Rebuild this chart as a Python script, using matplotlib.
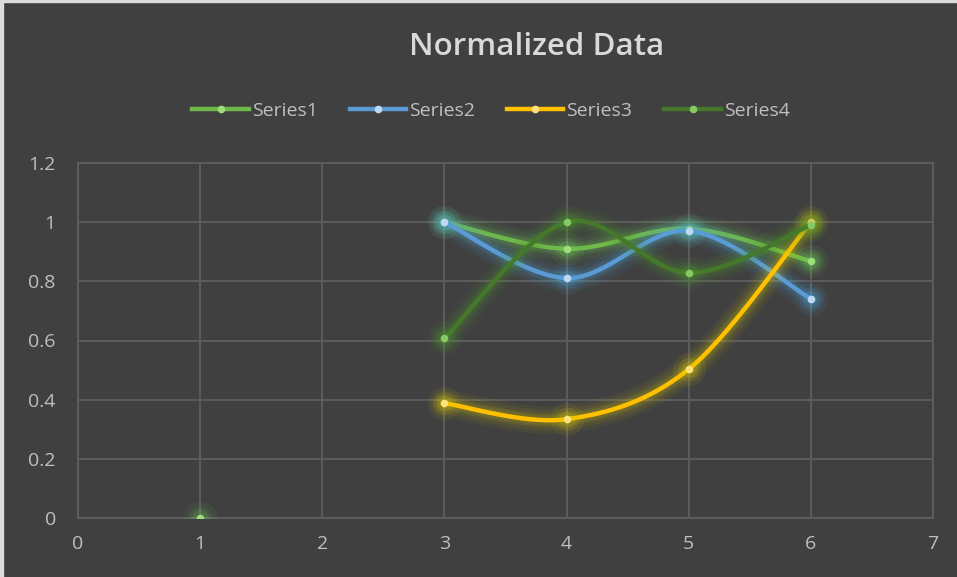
import numpy as np
import matplotlib
matplotlib.use("Agg")
import matplotlib.pyplot as plt
from matplotlib.patches import Rectangle

# ---- data ----
x_values = [1, 2, 3, 4, 5, 6]
series1 = [0.0, np.nan, 1.0, 0.910, 0.978, 0.868]
series2 = [np.nan, np.nan, 1.0, 0.811, 0.971, 0.741]
series3 = [np.nan, np.nan, 0.388, 0.334, 0.503, 1.0]
series4 = [np.nan, np.nan, 0.607, 1.0, 0.829, 0.99]
series_names = ["Series1", "Series2", "Series3", "Series4"]
x_ticks = [0, 1, 2, 3, 4, 5, 6, 7]
y_ticks = [0, 0.2, 0.4, 0.6, 0.8, 1.0, 1.2]
y_tick_labels = ["0", "0.2", "0.4", "0.6", "0.8", "1", "1.2"]

line_colors = ["#6fb84a", "#5b9bd5", "#ffc000", "#46782c"]
marker_colors = ["#9fdc7c", "#bcd8f2", "#ffe27a", "#86c862"]
glow_colors = ["#6fd45a", "#4fa8e0", "#e0d000", "#4f9a30"]

BG = "#404040"
GRID = "#5e5e5e"
TXT = "#bfbfbf"
FONT = ["Open Sans", "DejaVu Sans"]


def smooth_runs(xs, ys, n=40):
    xs = np.asarray(xs, float)
    ys = np.asarray(ys, float)
    runs, cur = [], []
    for xv, yv in zip(xs, ys):
        if np.isnan(yv):
            if cur:
                runs.append(cur)
            cur = []
        else:
            cur.append((xv, yv))
    if cur:
        runs.append(cur)
    out = []
    for run in runs:
        if len(run) < 2:
            continue
        P = np.array(run)
        m = len(P)
        segx, segy = [], []
        for i in range(m - 1):
            p0 = P[i - 1] if i > 0 else P[i]
            p1 = P[i]
            p2 = P[i + 1]
            p3 = P[i + 2] if i + 2 < m else P[i + 1]
            c1 = p1 + (p2 - p0) / 6.0
            c2 = p2 - (p3 - p1) / 6.0
            t = np.linspace(0, 1, n)[:, None]
            b = ((1 - t) ** 3) * p1 + 3 * ((1 - t) ** 2) * t * c1 + 3 * (1 - t) * t ** 2 * c2 + t ** 3 * p2
            segx.append(b[:, 0])
            segy.append(b[:, 1])
        out.append((np.concatenate(segx), np.concatenate(segy)))
    return out


fig = plt.figure(figsize=(9.57, 5.77), dpi=100)
fig.patch.set_facecolor(BG)
# light frame strip at left/top
fig.patches.append(Rectangle((0, 0), 3 / 957, 1, transform=fig.transFigure, color="#dcdcdc", zorder=0))
fig.patches.append(Rectangle((0, 1 - 2 / 577), 1, 2 / 577, transform=fig.transFigure, color="#dcdcdc", zorder=0))

ax = fig.add_axes([78 / 957, 1 - 518 / 577, (933 - 78) / 957, (518 - 163) / 577])
ax.set_facecolor(BG)
ax.set_xlim(0, 7)
ax.set_ylim(0, 1.2)
ax.set_xticks(x_ticks)
ax.set_yticks(y_ticks)
ax.set_yticklabels(y_tick_labels)
ax.grid(True, color=GRID, linewidth=1.3)
ax.set_axisbelow(True)
for s in ax.spines.values():
    s.set_color(GRID)
    s.set_linewidth(1.3)
ax.tick_params(length=0, colors=TXT, labelsize=14)
ax.tick_params(axis="x", pad=12)
ax.tick_params(axis="y", pad=16)
for lab in ax.get_xticklabels() + ax.get_yticklabels():
    lab.set_family(FONT)

all_series = [series1, series2, series3, series4]
handles = []
for k, ys in enumerate(all_series):
    lc, mc, gc = line_colors[k], marker_colors[k], glow_colors[k]
    for sx, sy in smooth_runs(x_values, ys):
        for lw, a in [(20, 0.05), (15, 0.07), (10, 0.10), (7, 0.12)]:
            ax.plot(sx, sy, color=gc, lw=lw, alpha=a, solid_capstyle="round", zorder=2 + k)
        ax.plot(sx, sy, color=lc, lw=3.2, solid_capstyle="round", zorder=3 + k)
    xa = np.array(x_values, float)
    ya = np.array(ys, float)
    ok = ~np.isnan(ya)
    for ms, a in [(24, 0.07), (17, 0.11), (12, 0.16)]:
        ax.plot(xa[ok], ya[ok], "o", ms=ms, color=gc, alpha=a, mec="none", zorder=3 + k)
    ax.plot(xa[ok], ya[ok], "o", ms=5.5, color=mc, mec="none", zorder=4 + k)
    h, = ax.plot([], [], color=lc, lw=3.2, marker="o", ms=5.5, mfc=mc, mec="none")
    handles.append(h)

fig.text(537 / 957, 1 - 47 / 577, "Normalized Data", ha="center", va="center",
         fontsize=22.5, fontweight="semibold", color="#d9d9d9", family=FONT)

leg = fig.legend(handles, series_names, loc="center", bbox_to_anchor=(491 / 957, 1 - 111 / 577),
                 ncol=4, frameon=False, handlelength=2.9, handletextpad=0.15, columnspacing=1.65,
                 prop={"family": FONT, "size": 14})
for t in leg.get_texts():
    t.set_color(TXT)

fig.savefig("out.png", dpi=100, facecolor=BG)
